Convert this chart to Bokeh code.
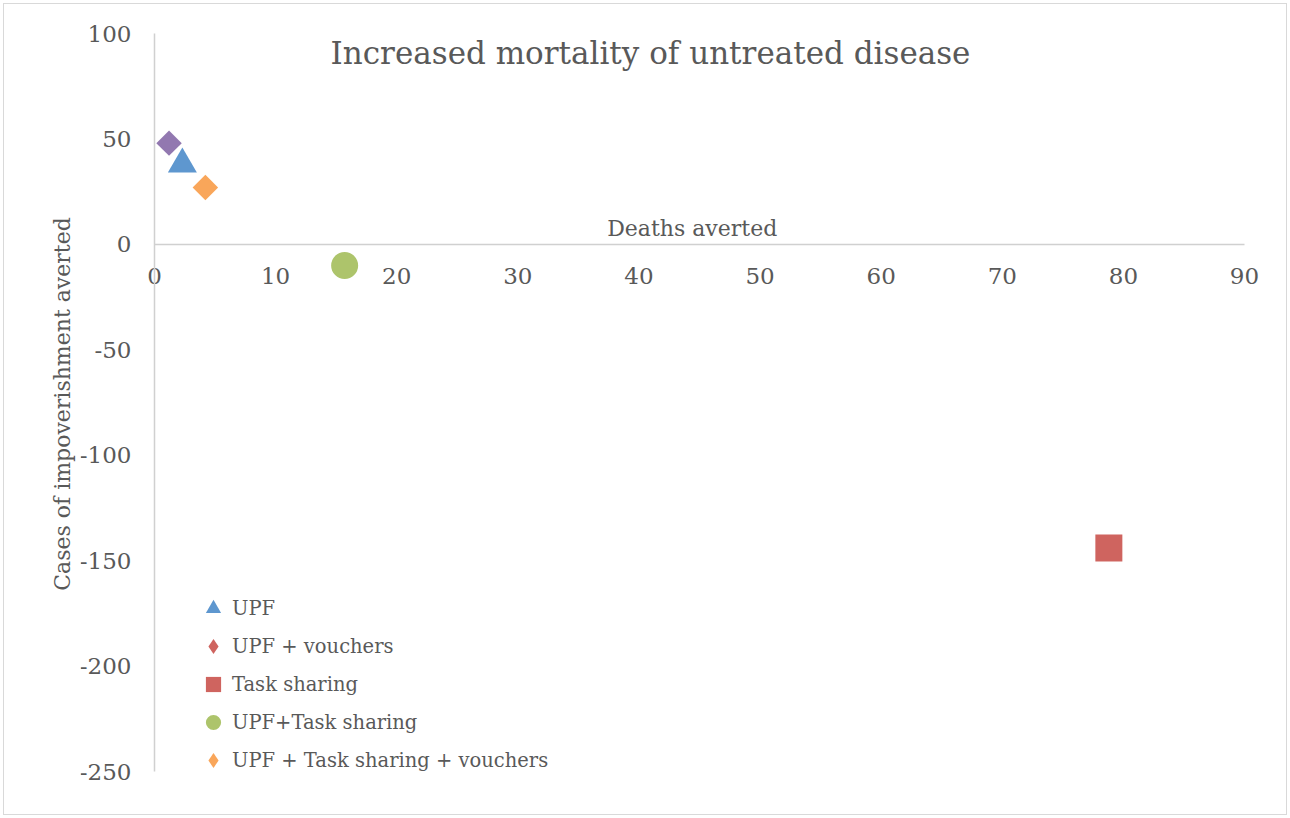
import math
from bokeh.plotting import figure
from bokeh.models import (Range1d, FixedTicker, Label, Legend, LegendItem,
                          LinearAxis)
from bokeh.embed import file_html
from bokeh.resources import INLINE

# ---- data ----
series = ["UPF", "UPF + vouchers", "Task sharing", "UPF+Task sharing",
          "UPF + Task sharing + vouchers"]
deaths_averted = [2.3, 1.2, 78.8, 15.7, 4.2]
impoverishment_averted = [38, 48, -144, -10, 27]
x_ticks = [0, 10, 20, 30, 40, 50, 60, 70, 80, 90]
y_ticks = [-250, -200, -150, -100, -50, 0, 50, 100]
x_title = "Deaths averted"
y_title = "Cases of impoverishment averted"
chart_title = "Increased mortality of untreated disease"

# ---- styles ----
point_colors = ["#5E97CF", "#9278B0", "#CF645F", "#ADC46B", "#F9A65A"]
legend_colors = ["#5E97CF", "#CF645F", "#CF645F", "#ADC46B", "#F9A65A"]
markers = ["triangle", "square", "square", "circle", "square"]
legend_markers = ["triangle", "diamond", "square", "circle", "diamond"]
angles = [0, math.pi / 4, 0, 0, math.pi / 4]
sizes = [29, 18, 27, 27, 18]

FONT = "DejaVu Serif"
GREY_TEXT = "#595959"
AXIS_GREY = "#D0D0D0"

# ---- layout (pixels) ----
W, H = 1284, 812
FRAME_L, FRAME_R, FRAME_T, FRAME_B = 76, 1278, 11, 788
# axis extents inside the frame (canvas px)
AX_X0, AX_X1 = 150, 1240      # x=0 .. x=90
AX_YT, AX_YB = 29, 767        # y=100 .. y=-250
xmin, xmax = x_ticks[0], x_ticks[-1]
ymin, ymax = y_ticks[0], y_ticks[-1]
ppx = (AX_X1 - AX_X0) / (xmax - xmin)
ppy = (AX_YB - AX_YT) / (ymax - ymin)
x_range = Range1d(xmin - (AX_X0 - FRAME_L) / ppx, xmax + (FRAME_R - AX_X1) / ppx)
y_range = Range1d(ymin - (FRAME_B - AX_YB) / ppy, ymax + (AX_YT - FRAME_T) / ppy)

p = figure(width=W, height=H, output_backend="svg", toolbar_location=None,
           x_range=x_range, y_range=y_range,
           min_border_left=FRAME_L, min_border_right=W - FRAME_R,
           min_border_top=FRAME_T, min_border_bottom=H - FRAME_B)
p.title.visible = False
p.outline_line_color = None
p.xgrid.visible = False
p.ygrid.visible = False
p.background_fill_color = "white"
p.border_fill_color = "white"
p.styles = {"border": "1px solid #D9D9D9", "margin": "3px 0px 0px 3px"}

# x axis crossing at y=0
xa = p.xaxis[0]
xa.fixed_location = 0
xa.bounds = (xmin, xmax)
xa.ticker = FixedTicker(ticks=x_ticks)
xa.major_label_overrides = {t: str(t) for t in x_ticks}
xa.axis_line_color = AXIS_GREY
xa.axis_line_width = 1.5
xa.major_tick_line_color = None
xa.minor_tick_line_color = None
xa.major_tick_out = 0
xa.major_tick_in = 0
xa.major_label_standoff = 24
xa.major_label_text_font = FONT
xa.major_label_text_font_size = "23px"
xa.major_label_text_color = GREY_TEXT

# y axis crossing at x=0
ya = p.yaxis[0]
ya.fixed_location = 0
ya.bounds = (ymin, ymax)
ya.ticker = FixedTicker(ticks=y_ticks)
ya.major_label_overrides = {t: str(t) for t in y_ticks}
ya.axis_line_color = AXIS_GREY
ya.axis_line_width = 1.5
ya.major_tick_line_color = None
ya.minor_tick_line_color = None
ya.major_tick_out = 0
ya.major_tick_in = 0
ya.major_label_standoff = 23
ya.major_label_text_font = FONT
ya.major_label_text_font_size = "23px"
ya.major_label_text_color = GREY_TEXT

# axis carrying only the y title
ta = LinearAxis(ticker=FixedTicker(ticks=[]), axis_label=y_title,
                bounds=(ymin, ymax),
                axis_line_color=None, major_tick_line_color=None,
                minor_tick_line_color=None, major_tick_out=0, major_tick_in=0,
                major_label_standoff=0, axis_label_standoff=6,
                axis_label_text_font=FONT, axis_label_text_font_style="normal",
                axis_label_text_font_size="22px", axis_label_text_color=GREY_TEXT)
p.add_layout(ta, "left")

items = []
for i, name in enumerate(series):
    p.scatter(x=[deaths_averted[i]], y=[impoverishment_averted[i]],
              marker=markers[i], size=sizes[i], angle=angles[i],
              fill_color=point_colors[i], line_color=None)
    # legend swatch (drawn only in the legend)
    r = p.scatter(x=[float("nan")], y=[float("nan")], marker=legend_markers[i],
                  size=sizes[i], fill_color=legend_colors[i], line_color=None)
    items.append(LegendItem(label=name, renderers=[r]))

legend = Legend(items=items, location=(114, 13), orientation="vertical",
                glyph_width=38, glyph_height=38, spacing=0, padding=0, margin=0,
                label_standoff=0, label_height=38,
                label_text_font=FONT, label_text_font_size="19.5px",
                label_text_color=GREY_TEXT,
                background_fill_alpha=0, border_line_color=None)
p.add_layout(legend, "center")

title = Label(x=570, y=740, x_units="screen", y_units="screen",
              text=chart_title,
              text_font=FONT, text_font_size="31px", text_color=GREY_TEXT,
              text_align="center", text_baseline="middle")
p.add_layout(title)

xtitle = Label(x=44.4, y=0, y_offset=16, text=x_title,
               text_font=FONT, text_font_size="22px", text_color=GREY_TEXT,
               text_align="center", text_baseline="alphabetic")
p.add_layout(xtitle)

open("out.html", "w").write(file_html(p, INLINE))
